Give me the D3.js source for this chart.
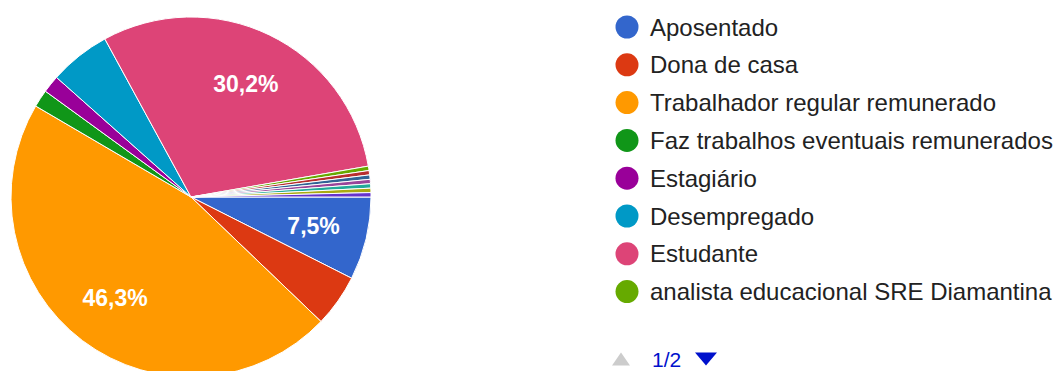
<!DOCTYPE html>
<html>
<head>
<meta charset="utf-8">
<script src="https://cdn.jsdelivr.net/npm/d3@7"></script>
<style>
  html, body { margin: 0; padding: 0; background: #fff; overflow: hidden; }
  svg { display: block; font-family: "Liberation Sans", Arial, sans-serif; }
</style>
</head>
<body>
<svg id="chart" width="1055" height="371"></svg>
<script>
// Answers to "Ocupação" (response counts per option)
const categories = [
  "Aposentado",
  "Dona de casa",
  "Trabalhador regular remunerado",
  "Faz trabalhos eventuais remunerados",
  "Estagiário",
  "Desempregado",
  "Estudante",
  "analista educacional SRE Diamantina",
  "Outra resposta 1",
  "Outra resposta 2",
  "Outra resposta 3",
  "Outra resposta 4",
  "Outra resposta 5",
  "Outra resposta 6"
];
const counts = [19, 12, 118, 4, 4, 14, 77, 1, 1, 1, 1, 1, 1, 1];
const palette = [
  "#3366cc", "#dc3912", "#ff9900", "#109618", "#990099", "#0099c6", "#dd4477",
  "#66aa00", "#b82e2e", "#316395", "#994499", "#22aa99", "#aaaa11", "#6633cc"
];
const legendPageSize = 8;
const legendPageLabel = "1/2";

const svg = d3.select("#chart");
const cx = 191, cy = 197, radius = 180;

const total = d3.sum(counts);
const ptBR = d3.formatLocale({ decimal: ",", thousands: ".", grouping: [3], currency: ["R$", ""] });
const fmtPct = ptBR.format(".1%");

const color = d3.scaleOrdinal().domain(categories).range(palette);

const slices = categories.map((name, i) => ({ name, value: counts[i] }));

// Pie starts at three o'clock and runs clockwise
const pie = d3.pie()
  .sort(null)
  .value(d => d.value)
  .startAngle(Math.PI / 2)
  .endAngle(Math.PI / 2 + 2 * Math.PI);

const arcs = pie(slices);
const arc = d3.arc().innerRadius(0).outerRadius(radius);
const labelArc = d3.arc().innerRadius(radius * 0.7).outerRadius(radius * 0.7);

const gPie = svg.append("g").attr("transform", `translate(${cx},${cy})`);

gPie.selectAll("path.slice")
  .data(arcs)
  .join("path")
  .attr("class", "slice")
  .attr("d", arc)
  .attr("fill", d => color(d.data.name))
  .attr("stroke", "#fff")
  .attr("stroke-width", 1);

gPie.selectAll("text.pct")
  .data(arcs.filter(d => d.data.value / total >= 0.07))
  .join("text")
  .attr("class", "pct")
  .attr("transform", d => `translate(${labelArc.centroid(d)})`)
  .attr("text-anchor", "middle")
  .attr("dominant-baseline", "central")
  .attr("fill", "#fff")
  .attr("font-size", 23)
  .attr("font-weight", "bold")
  .text(d => fmtPct(d.data.value / total));

// Legend (first page)
const legendX = 627, legendY0 = 27, rowH = 37.8;
const gLegend = svg.append("g");
const rows = gLegend.selectAll("g.row")
  .data(categories.slice(0, legendPageSize))
  .join("g")
  .attr("class", "row")
  .attr("transform", (d, i) => `translate(${legendX},${legendY0 + i * rowH})`);

rows.append("circle")
  .attr("r", 11.5)
  .attr("fill", d => color(d));

rows.append("text")
  .attr("x", 23)
  .attr("dominant-baseline", "central")
  .attr("fill", "#222")
  .attr("font-size", 24)
  .text(d => d);

// Legend paging control
const pageY = 359;
const gPage = svg.append("g");
gPage.append("path")
  .attr("d", d3.line()([[612, pageY + 6.5], [630, pageY + 6.5], [621, pageY - 6.5]]) + "Z")
  .attr("fill", "#cccccc");
gPage.append("text")
  .attr("x", 652)
  .attr("y", pageY)
  .attr("dominant-baseline", "central")
  .attr("fill", "#0011cc")
  .attr("font-size", 21)
  .text(legendPageLabel);
gPage.append("path")
  .attr("d", d3.line()([[695, pageY - 6.5], [717, pageY - 6.5], [706, pageY + 6.5]]) + "Z")
  .attr("fill", "#0011cc");
</script>
</body>
</html>
